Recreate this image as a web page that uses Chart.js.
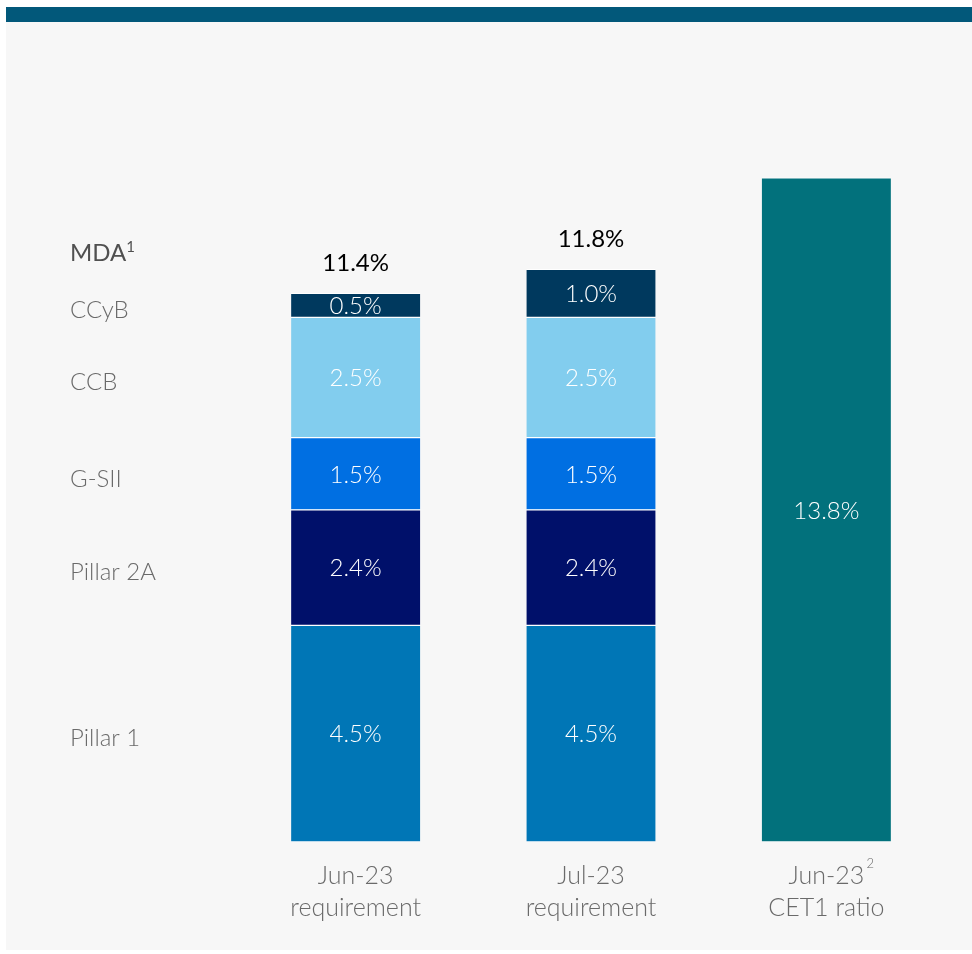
<!DOCTYPE html>
<html>
<head>
<meta charset="utf-8">
<script src="https://cdn.jsdelivr.net/npm/chart.js@4"></script>
<style>
  html, body { margin: 0; padding: 0; background: #fff; }
  #wrap { position: relative; width: 972px; height: 954px; }
</style>
</head>
<body>
<div id="wrap"><canvas id="chart" width="972" height="954"></canvas></div>
<script>
// categories (two lines each)
const categories = [['Jun-23', 'requirement'], ['Jul-23', 'requirement'], ['Jun-23', 'CET1 ratio']];

// stacked requirement components (%), last column is empty
const pillar1  = [4.5, 4.5, null];
const pillar2a = [2.4, 2.4, null];
const gsii     = [1.5, 1.5, null];
const ccb      = [2.5, 2.5, null];
const ccyb     = [0.5, 1.0, null];
// actual CET1 ratio
const cet1     = [null, null, 13.8];
// totals shown above the requirement stacks
const totals   = ['11.4%', '11.8%', null];

const FONT = 'Lato, "Open Sans", sans-serif';

function seg(label, data, color) {
    return {
        label: label,
        data: data,
        backgroundColor: color,
        borderColor: '#ffffff',
        borderWidth: { top: 1, bottom: 1, left: 0, right: 0 },
        borderSkipped: false,
        barThickness: 129,
        stack: 's'
    };
}

// page background + top banner
const background = {
    id: 'background',
    beforeDraw(chart) {
        const ctx = chart.ctx;
        ctx.save();
        ctx.fillStyle = '#ffffff';
        ctx.fillRect(0, 0, chart.width, chart.height);
        ctx.fillStyle = '#f7f7f7';
        ctx.fillRect(6, 22, chart.width - 6, 928);
        ctx.fillStyle = '#02587a';
        ctx.fillRect(6, 7, chart.width - 6, 15);
        ctx.restore();
    }
};

// value labels, totals, left legend and category labels
const labels = {
    id: 'labels',
    afterDatasetsDraw(chart) {
        const ctx = chart.ctx;
        const x = chart.scales.x;
        const y = chart.scales.y;
        ctx.save();
        ctx.textAlign = 'center';
        ctx.textBaseline = 'middle';
        ctx.font = '300 24px ' + FONT;
        ctx.fillStyle = '#ffffff';
        chart.data.datasets.forEach((ds, di) => {
            const meta = chart.getDatasetMeta(di);
            meta.data.forEach((bar, i) => {
                if (ds.data[i] == null) return;
                ctx.fillText(ds.data[i].toFixed(1) + '%', bar.x, (bar.y + bar.base) / 2 + 1);
            });
        });

        // totals above stacks
        ctx.fillStyle = '#000000';
        ctx.font = '400 24px ' + FONT;
        ctx.textBaseline = 'alphabetic';
        const topMeta = chart.getDatasetMeta(4);
        totals.forEach((t, i) => {
            if (!t) return;
            ctx.fillText(t, topMeta.data[i].x, topMeta.data[i].y - 22);
        });

        // left legend aligned to the first stack
        ctx.textAlign = 'left';
        ctx.textBaseline = 'middle';
        ctx.font = '300 24px ' + FONT;
        ctx.fillStyle = '#6a6a6a';
        for (let di = 0; di < 5; di++) {
            const bar = chart.getDatasetMeta(di).data[0];
            ctx.fillText(chart.data.datasets[di].label, 70, (bar.y + bar.base) / 2 + 5);
        }
        ctx.fillStyle = '#505050';
        ctx.font = '400 24px ' + FONT;
        const mdaY = y.getPixelForValue(12.24);
        ctx.fillText('MDA', 70, mdaY);
        const w = ctx.measureText('MDA').width;
        ctx.font = '400 15px ' + FONT;
        ctx.fillText('1', 70 + w, mdaY - 6);

        // category labels
        ctx.textAlign = 'center';
        ctx.fillStyle = '#6a6a6a';
        categories.forEach((lines, i) => {
            const cx = x.getPixelForValue(i);
            ctx.font = '300 25px ' + FONT;
            ctx.fillText(lines[0], cx, 876);
            ctx.fillText(lines[1], cx, 908);
            if (i === 2) {
                const lw = ctx.measureText(lines[0]).width;
                ctx.font = '300 13px ' + FONT;
                ctx.fillText('2', cx + lw / 2 + 6, 864);
            }
        });
        ctx.restore();
    }
};

new Chart(document.getElementById('chart'), {
    type: 'bar',
    data: {
        labels: categories.map(c => c.join(' ')),
        datasets: [
            seg('Pillar 1', pillar1, '#0076b6'),
            seg('Pillar 2A', pillar2a, '#00106a'),
            seg('G-SII', gsii, '#006fe2'),
            seg('CCB', ccb, '#82cdee'),
            seg('CCyB', ccyb, '#00395e'),
            seg('CET1 ratio', cet1, '#02717c')
        ]
    },
    options: {
        responsive: false,
        animation: false,
        layout: { padding: { left: 238, right: 28, top: 120, bottom: 112 } },
        plugins: {
            legend: { display: false },
            tooltip: { enabled: false }
        },
        scales: {
            x: { stacked: true, display: false },
            y: { stacked: true, display: false, min: 0, max: 15 }
        }
    },
    plugins: [background, labels]
});
</script>
</body>
</html>
